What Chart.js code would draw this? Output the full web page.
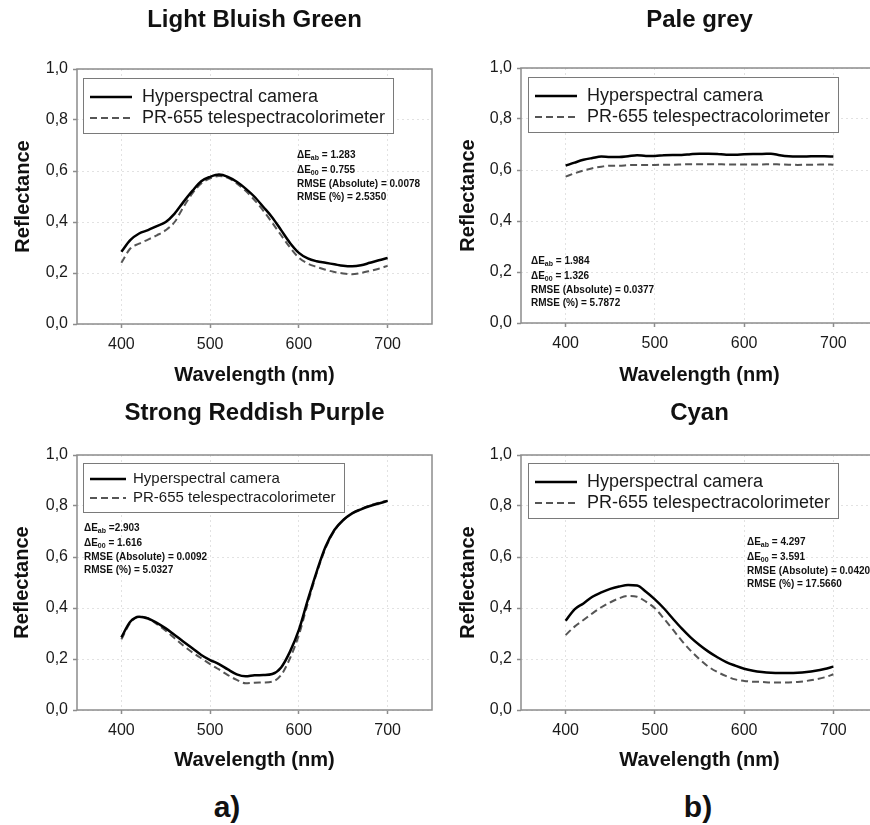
<!DOCTYPE html>
<html>
<head>
<meta charset="utf-8">
<title>Reflectance spectra</title>
<script src="https://cdn.jsdelivr.net/npm/chart.js@4.4.1/dist/chart.umd.min.js"></script>
<style>
  body { margin: 0; background: #fff; }
  #page { position: relative; width: 870px; height: 825px; overflow: hidden; background: #fff; }
  canvas { position: absolute; }
  .tag { position: absolute; width: 80px; margin-left: -40px; text-align: center; line-height: 34px;
         font: bold 30px "Liberation Sans", Arial, sans-serif; color: #111; }
</style>
</head>
<body>
<div id="page">
  <canvas id="c1" width="435" height="400" style="left:0;top:0"></canvas>
  <canvas id="c2" width="446" height="400" style="left:435px;top:0"></canvas>
  <canvas id="c3" width="435" height="382" style="left:0;top:398px"></canvas>
  <canvas id="c4" width="446" height="382" style="left:435px;top:398px"></canvas>
  <div class="tag" style="left:227px;top:790px">a)</div>
  <div class="tag" style="left:698px;top:790px">b)</div>
</div>
<script>
// wavelengths (nm) and axis ticks
const wavelengths = [400,410,420,430,440,450,460,470,480,490,500,510,520,530,540,550,
                     560,570,580,590,600,610,620,630,640,650,660,670,680,690,700];
const xTicks = [400, 500, 600, 700];
const yTicks = [0, 0.2, 0.4, 0.6, 0.8, 1.0];
const seriesNames = ['Hyperspectral camera', 'PR-655 telespectracolorimeter'];
const panelTitles = ['Light Bluish Green', 'Pale grey', 'Strong Reddish Purple', 'Cyan'];

// reflectance values
const greenCamera = [0.283,0.329,0.355,0.368,0.384,0.400,0.433,0.479,0.522,0.560,0.577,0.586,0.577,0.558,0.531,0.499,
                     0.459,0.418,0.368,0.318,0.279,0.257,0.246,0.240,0.234,0.228,0.226,0.230,0.240,0.250,0.259];
const greenPR655  = [0.240,0.296,0.315,0.331,0.348,0.368,0.400,0.459,0.512,0.551,0.571,0.580,0.573,0.551,0.522,0.486,
                     0.444,0.397,0.348,0.300,0.260,0.237,0.224,0.213,0.204,0.198,0.195,0.200,0.208,0.217,0.228];
const greyCamera  = [0.617,0.629,0.640,0.647,0.653,0.651,0.651,0.654,0.658,0.655,0.655,0.658,0.659,0.659,0.662,0.664,
                     0.664,0.663,0.660,0.660,0.662,0.663,0.663,0.664,0.658,0.654,0.653,0.653,0.654,0.654,0.653];
const greyPR655   = [0.574,0.587,0.598,0.607,0.613,0.617,0.617,0.619,0.620,0.620,0.620,0.621,0.621,0.622,0.623,0.623,
                     0.623,0.623,0.622,0.622,0.622,0.622,0.622,0.623,0.622,0.621,0.620,0.621,0.621,0.622,0.621];
const purpleCamera = [0.285,0.346,0.366,0.359,0.342,0.320,0.294,0.268,0.242,0.216,0.196,0.180,0.159,0.140,0.132,0.136,
                      0.137,0.141,0.167,0.229,0.314,0.431,0.542,0.640,0.706,0.745,0.771,0.787,0.800,0.810,0.820];
const purplePR655  = [0.277,0.342,0.366,0.360,0.337,0.311,0.281,0.252,0.226,0.203,0.180,0.159,0.137,0.118,0.105,0.107,
                      0.108,0.111,0.137,0.203,0.294,0.418,0.536,0.634,0.703,0.745,0.771,0.788,0.802,0.813,0.821];
const cyanCamera = [0.350,0.395,0.418,0.444,0.461,0.475,0.484,0.490,0.488,0.464,0.434,0.399,0.359,0.320,0.285,0.255,
                    0.229,0.207,0.188,0.174,0.162,0.154,0.149,0.146,0.145,0.145,0.146,0.149,0.154,0.161,0.170];
const cyanPR655  = [0.294,0.327,0.353,0.379,0.403,0.422,0.438,0.447,0.444,0.425,0.399,0.359,0.316,0.272,0.233,0.199,
                    0.170,0.149,0.133,0.120,0.114,0.111,0.110,0.108,0.108,0.108,0.110,0.114,0.120,0.128,0.140];

// colour difference / error text, [main, subscript, rest] or [plain]
const greenStats  = [['\u0394E', 'ab', ' = 1.283'], ['\u0394E', '00', ' = 0.755'], ['RMSE (Absolute) = 0.0078'], ['RMSE (%) = 2.5350']];
const greyStats   = [['\u0394E', 'ab', ' = 1.984'], ['\u0394E', '00', ' = 1.326'], ['RMSE (Absolute) = 0.0377'], ['RMSE (%) = 5.7872']];
const purpleStats = [['\u0394E', 'ab', ' =2.903'],  ['\u0394E', '00', ' = 1.616'], ['RMSE (Absolute) = 0.0092'], ['RMSE (%) = 5.0327']];
const cyanStats   = [['\u0394E', 'ab', ' = 4.297'], ['\u0394E', '00', ' = 3.591'], ['RMSE (Absolute) = 0.0420'], ['RMSE (%) = 17.5660']];

const FONT = '"Liberation Sans", Arial, sans-serif';
Chart.defaults.font.family = FONT;
Chart.defaults.color = '#111';

const statLineGaps = [0, 15, 29, 42];

function fmtTick(v) {
  return Number(v).toFixed(1).replace('.', ',');
}

function pairs(values) {
  return wavelengths.map((w, i) => ({x: w, y: values[i]}));
}

const bigLegend = {fs: 18, dx: 6, dy: 9, h: 55, rows: [19, 40], s1: 7, s2: 49, tx: 59};

const panels = [
  {id: 'c1', title: panelTitles[0], cam: greenCamera, pr: greenPR655, stats: greenStats,
   axisW: 77, yTitlePad: 11, tTop: 5.6, tBottom: 34.6, xAxisH: 76, xTitlePad: 13,
   legend: bigLegend, statPos: [220, 86]},
  {id: 'c2', title: panelTitles[1], cam: greyCamera, pr: greyPR655, stats: greyStats,
   axisW: 86, yTitlePad: 21, tTop: 5.6, tBottom: 33.6, xAxisH: 77, xTitlePad: 13,
   legend: Object.assign({}, bigLegend, {dx: 7}), statPos: [10, 193]},
  {id: 'c3', title: panelTitles[2], cam: purpleCamera, pr: purplePR655, stats: purpleStats,
   axisW: 77, yTitlePad: 10, tTop: 0.6, tBottom: 27.6, xAxisH: 70, xTitlePad: 8,
   legend: {fs: 15, dx: 6, dy: 8, h: 49, rows: [16, 35], s1: 7, s2: 43, tx: 50}, statPos: [7, 73]},
  {id: 'c4', title: panelTitles[3], cam: cyanCamera, pr: cyanPR655, stats: cyanStats,
   axisW: 86, yTitlePad: 21, tTop: 0.6, tBottom: 27.6, xAxisH: 70, xTitlePad: 8,
   legend: Object.assign({}, bigLegend, {dx: 7, dy: 8}), statPos: [226, 87]}
];

function makePanel(p) {
  const frame = {
    id: 'frame',
    afterDraw(chart) {
      const {ctx, chartArea: a} = chart;
      ctx.save();
      ctx.strokeStyle = '#8c8c8c';
      ctx.lineWidth = 1.5;
      ctx.strokeRect(a.left, a.top, a.right - a.left, a.bottom - a.top);
      ctx.restore();
    }
  };

  const boxLegend = {
    id: 'boxLegend',
    afterDatasetsDraw(chart) {
      const {ctx, chartArea: a} = chart;
      const o = p.legend;
      ctx.save();
      ctx.font = o.fs + 'px ' + FONT;
      let w = 0;
      chart.data.datasets.forEach(d => { w = Math.max(w, ctx.measureText(d.label).width); });
      const x = Math.round(a.left + o.dx), y = Math.round(a.top + o.dy), bw = Math.round(o.tx + w + 8);
      ctx.fillStyle = '#fff';
      ctx.fillRect(x, y, bw, o.h);
      ctx.strokeStyle = '#7a7a7a';
      ctx.lineWidth = 1;
      ctx.strokeRect(x + 0.5, y + 0.5, bw, o.h);
      chart.data.datasets.forEach((d, i) => {
        const ry = y + o.rows[i];
        ctx.strokeStyle = d.borderColor;
        ctx.lineWidth = d.borderWidth;
        ctx.setLineDash(d.borderDash || []);
        ctx.beginPath();
        ctx.moveTo(x + o.s1, ry);
        ctx.lineTo(x + o.s2, ry);
        ctx.stroke();
        ctx.setLineDash([]);
        ctx.fillStyle = '#1a1a1a';
        ctx.textBaseline = 'middle';
        ctx.fillText(d.label, x + o.tx, ry);
      });
      ctx.restore();
    }
  };

  const statsText = {
    id: 'statsText',
    afterDatasetsDraw(chart) {
      const {ctx, chartArea: a} = chart;
      ctx.save();
      ctx.fillStyle = '#111';
      ctx.textBaseline = 'middle';
      p.stats.forEach((parts, i) => {
        let x = a.left + p.statPos[0];
        const y = a.top + p.statPos[1] + statLineGaps[i];
        parts.forEach((txt, j) => {
          const sub = parts.length === 3 && j === 1;
          ctx.font = 'bold ' + (sub ? 7 : 10) + 'px ' + FONT;
          ctx.fillText(txt, x, sub ? y + 3 : y);
          x += ctx.measureText(txt).width;
        });
      });
      ctx.restore();
    }
  };

  const gridOpts = {color: '#e2e2e2', tickColor: '#8c8c8c', tickLength: 4, tickWidth: 1.5, tickBorderDash: []};

  new Chart(document.getElementById(p.id), {
    type: 'line',
    data: {
      datasets: [
        {label: seriesNames[0], data: pairs(p.cam), borderColor: '#000', borderWidth: 2.5, borderDash: []},
        {label: seriesNames[1], data: pairs(p.pr), borderColor: '#555', borderWidth: 2, borderDash: [7, 4]}
      ]
    },
    options: {
      responsive: false,
      animation: false,
      layout: {padding: {top: 0, left: 0, right: 3, bottom: 0}},
      elements: {
        point: {radius: 0},
        line: {cubicInterpolationMode: 'monotone', fill: false}
      },
      plugins: {
        legend: {display: false},
        tooltip: {enabled: false},
        title: {
          display: true, text: p.title, fullSize: false, color: '#111',
          font: {size: 24, weight: 'bold', family: FONT},
          padding: {top: p.tTop, bottom: p.tBottom}
        }
      },
      scales: {
        x: {
          type: 'linear', min: 350, max: 750,
          afterBuildTicks: ax => { ax.ticks = xTicks.map(v => ({value: v})); },
          afterFit: ax => { ax.height = p.xAxisH; },
          grid: gridOpts,
          border: {display: false, dash: [2, 3]},
          ticks: {padding: 7, color: '#1a1a1a', font: {size: 16}},
          title: {
            display: true, text: 'Wavelength (nm)', color: '#111',
            font: {size: 20, weight: 'bold'}, padding: {top: 0, bottom: p.xTitlePad}
          }
        },
        y: {
          type: 'linear', min: 0, max: 1,
          afterBuildTicks: ax => { ax.ticks = yTicks.map(v => ({value: v})); },
          afterFit: ax => { ax.width = p.axisW; },
          grid: gridOpts,
          border: {display: false, dash: [2, 3]},
          ticks: {padding: 5, color: '#1a1a1a', font: {size: 16}, callback: v => fmtTick(v)},
          title: {
            display: true, text: 'Reflectance', color: '#111',
            font: {size: 20, weight: 'bold'}, padding: {top: p.yTitlePad, bottom: 0}
          }
        }
      }
    },
    plugins: [frame, boxLegend, statsText]
  });
}

panels.forEach(makePanel);
</script>
</body>
</html>
